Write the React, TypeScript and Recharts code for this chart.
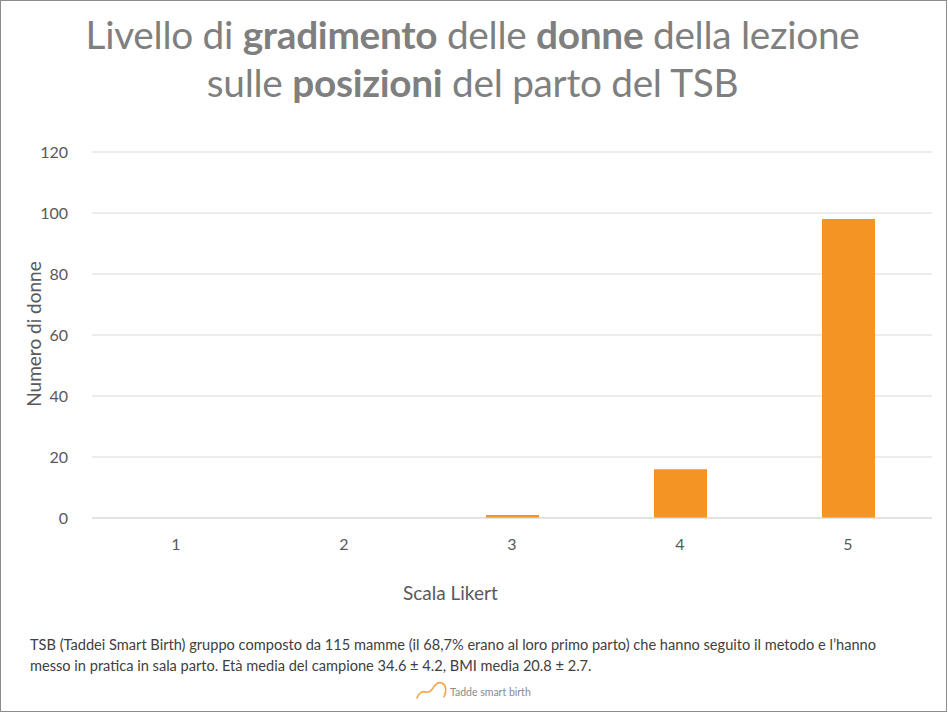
import { BarChart, Bar, XAxis, YAxis, CartesianGrid } from "recharts";

const likertLevels = ["1", "2", "3", "4", "5"];
const womenCounts = [0, 0, 1, 16, 98];
const yTicks = [0, 20, 40, 60, 80, 100, 120];

const data = likertLevels.map((level, i) => ({ level, count: womenCounts[i] }));

const FONT = "Lato, 'Open Sans', sans-serif";
const ORANGE = "#F39424";

const App = () => {
  return (
    <div style={{ position: "absolute", left: 0, top: 0, width: 948, height: 716, background: "#fff", fontFamily: FONT }}>
      <div style={{ position: "absolute", left: 0, top: 0, width: 945, height: 710, border: "1px solid #8c8c8c" }} />

      <div style={{ position: "absolute", left: 0, width: 945, top: 10, textAlign: "center", color: "#7f7f7f", fontSize: 38.8, lineHeight: "48px", letterSpacing: -0.3 }}>
        <div>Livello di <b>gradimento</b> delle <b>donne</b> della lezione</div>
        <div>sulle <b>posizioni</b> del parto del TSB</div>
      </div>

      <div style={{ position: "absolute", left: 0, top: 0 }}>
        <BarChart width={948} height={716} data={data} margin={{ top: 152, right: 16, bottom: 168, left: 32 }}>
          <CartesianGrid vertical={false} stroke="#d9d9d9" />
          <XAxis
            dataKey="level"
            height={30}
            axisLine={{ stroke: "#d9d9d9" }}
            tickLine={false}
            tickSize={0}
            tickMargin={21}
            tick={{ fill: "#595959", fontSize: 16, fontFamily: FONT }}
          />
          <YAxis
            width={60}
            domain={[0, 120]}
            ticks={yTicks}
            axisLine={false}
            tickLine={false}
            tickSize={0}
            tickMargin={24}
            tick={{ fill: "#595959", fontSize: 16, fontFamily: FONT }}
          />
          <Bar dataKey="count" fill={ORANGE} barSize={53} isAnimationActive={false} />
        </BarChart>
      </div>

      <div style={{ position: "absolute", left: 33, top: 334, transform: "translate(-50%, -50%) rotate(-90deg)", whiteSpace: "nowrap", color: "#595959", fontSize: 19 }}>
        Numero di donne
      </div>
      <div style={{ position: "absolute", left: 403, top: 581, whiteSpace: "nowrap", color: "#595959", fontSize: 19 }}>
        Scala Likert
      </div>

      <div style={{ position: "absolute", left: 30, top: 634, color: "#404040", fontSize: 14.6, lineHeight: "21px", whiteSpace: "nowrap" }}>
        <div>TSB (Taddei Smart Birth) gruppo composto da 115 mamme (il 68,7% erano al loro primo parto) che hanno seguito il metodo e l’hanno</div>
        <div>messo in pratica in sala parto. Età media del campione 34.6 ± 4.2, BMI media 20.8 ± 2.7.</div>
      </div>

      <svg style={{ position: "absolute", left: 414, top: 678 }} width={120} height={28}>
        <path d="M3 20 C 5 14, 9 13, 12 14 C 15 15, 17 13, 19 10 C 22 5, 25 4, 28 5 C 32 7, 33 13, 30 19" fill="none" stroke="#f0a64a" strokeWidth={1.6} strokeLinecap="round" />
        <text x={36} y={18} fill="#8a8a8a" fontSize={10.5} fontFamily={FONT}>Tadde smart birth</text>
      </svg>
    </div>
  );
};

export default App;
